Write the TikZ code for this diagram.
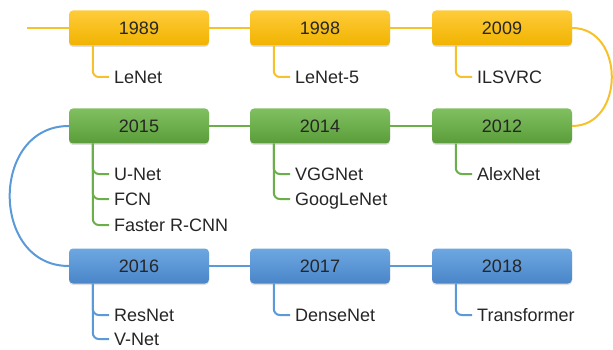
\documentclass[tikz,border=0pt]{standalone}
\usepackage{fontspec}
\setmainfont{Liberation Sans}
\usetikzlibrary{shadows}

\definecolor{ytop}{HTML}{FFCC3A}
\definecolor{ybot}{HTML}{F0B300}
\definecolor{yline}{HTML}{F7C12B}
\definecolor{gtop}{HTML}{80C060}
\definecolor{gbot}{HTML}{5A9C3A}
\definecolor{gline}{HTML}{6BAF4A}
\definecolor{btop}{HTML}{6EA8E2}
\definecolor{bbot}{HTML}{4985C8}
\definecolor{bline}{HTML}{5A9AD8}

\tikzset{
  year/.style={rounded corners=4pt, minimum width=140pt, minimum height=35pt,
    text height=13pt, text depth=0pt, text=black!85,
    font=\fontsize{18}{20}\selectfont,
    drop shadow={shadow xshift=0pt, shadow yshift=-1.5pt, opacity=.25}},
  yearY/.style={year, top color=ytop, bottom color=ybot},
  yearG/.style={year, top color=gtop, bottom color=gbot},
  yearB/.style={year, top color=btop, bottom color=bbot},
  item/.style={anchor=west, inner sep=5pt, text height=13pt, text depth=0pt,
    text=black!85, font=\fontsize{18}{20}\selectfont},
  link/.style={line width=2pt},
  branch/.style={line width=2pt, rounded corners=6pt},
}

\begin{document}
\begin{tikzpicture}[x=1pt,y=-1pt]
  \useasboundingbox (0,0) rectangle (613,350);

  % years
  \node[yearY] (Y1989) at (139,28) {1989};
  \node[yearY] (Y1998) at (320,28) {1998};
  \node[yearY] (Y2009) at (502,28) {2009};
  \node[yearG] (Y2015) at (139,126) {2015};
  \node[yearG] (Y2014) at (320,126) {2014};
  \node[yearG] (Y2012) at (502,126) {2012};
  \node[yearB] (Y2016) at (139,266) {2016};
  \node[yearB] (Y2017) at (320,266) {2017};
  \node[yearB] (Y2018) at (502,266) {2018};

  % networks
  \node[item] (lenet) at (109,77) {LeNet};
  \node[item] (lenetv) at (290,77) {LeNet-5};
  \node[item] (ilsvrc) at (472,77) {ILSVRC};
  \node[item] (unet) at (109,174) {U-Net};
  \node[item] (fcn) at (109,199) {FCN};
  \node[item] (frcnn) at (109,225) {Faster R-CNN};
  \node[item] (vgg) at (290,174) {VGGNet};
  \node[item] (goog) at (290,199) {GoogLeNet};
  \node[item] (alex) at (472,174) {AlexNet};
  \node[item] (resnet) at (109,315) {ResNet};
  \node[item] (vnet) at (109,339) {V-Net};
  \node[item] (dense) at (290,315) {DenseNet};
  \node[item] (trans) at (472,315) {Transformer};

  \coordinate (start) at (27,28);

  % timeline
  \draw[link, yline] (start) -- (Y1989.west);
  \draw[link, yline] (Y1989) -- (Y1998);
  \draw[link, yline] (Y1998) -- (Y2009);
  \draw[link, yline] (Y2009.east) .. controls (625,28) and (625,126) .. (Y2012.east);
  \draw[link, gline] (Y2012) -- (Y2014);
  \draw[link, gline] (Y2014) -- (Y2015);
  \draw[link, bline] (Y2015.west) .. controls (-10,126) and (-10,266) .. (Y2016.west);
  \draw[link, bline] (Y2016) -- (Y2017);
  \draw[link, bline] (Y2017) -- (Y2018);

  % branches
  \draw[branch, yline] ([xshift=24pt]Y1989.south west) |- (lenet.west);
  \draw[branch, yline] ([xshift=24pt]Y1998.south west) |- (lenetv.west);
  \draw[branch, yline] ([xshift=24pt]Y2009.south west) |- (ilsvrc.west);
  \draw[branch, gline] ([xshift=24pt]Y2015.south west) |- (unet.west);
  \draw[branch, gline] ([xshift=24pt]Y2015.south west) |- (fcn.west);
  \draw[branch, gline] ([xshift=24pt]Y2015.south west) |- (frcnn.west);
  \draw[branch, gline] ([xshift=24pt]Y2014.south west) |- (vgg.west);
  \draw[branch, gline] ([xshift=24pt]Y2014.south west) |- (goog.west);
  \draw[branch, gline] ([xshift=24pt]Y2012.south west) |- (alex.west);
  \draw[branch, bline] ([xshift=24pt]Y2016.south west) |- (resnet.west);
  \draw[branch, bline] ([xshift=24pt]Y2016.south west) |- (vnet.west);
  \draw[branch, bline] ([xshift=24pt]Y2017.south west) |- (dense.west);
  \draw[branch, bline] ([xshift=24pt]Y2018.south west) |- (trans.west);
\end{tikzpicture}
\end{document}
